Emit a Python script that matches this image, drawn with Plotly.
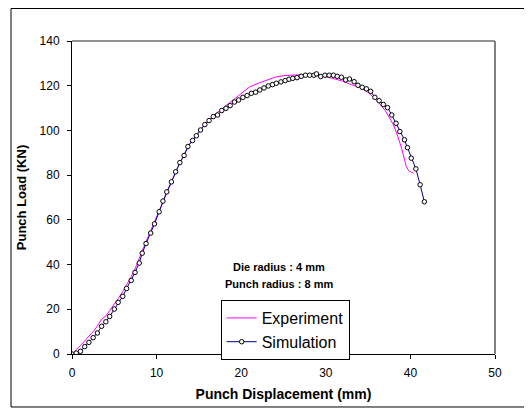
import plotly.graph_objects as go

# Experiment (magenta line)
exp_x = [0, 0.5, 1, 1.5, 2, 2.5, 3, 3.5, 4, 4.5, 5, 5.5, 6, 6.5, 7, 7.5, 8, 8.5, 9, 9.5,
         10, 10.5, 11, 11.5, 12, 12.5, 13, 13.5, 14, 15, 16, 17, 18, 19, 19.8, 20.4, 21,
         22, 23, 24, 25, 26, 27, 28, 29, 30, 31, 32, 33, 34, 35, 36, 37, 38, 38.5, 39,
         39.5, 39.8, 40.1, 40.4]
exp_y = [0, 1.8, 3.8, 5.8, 8, 10, 12.5, 15.6, 17, 19.5, 22, 25, 28, 31, 34.5, 38.5,
         43.5, 48, 52.5, 57, 61.5, 65.5, 70.5, 75, 79.5, 83.5, 87.5, 91, 94.5, 99.5,
         104, 107.5, 110.5, 113.8, 116.3, 118, 119.5, 121.1, 122.6, 123.8, 124.5, 124.8,
         124.9, 124.8, 124.5, 124, 123.1, 122, 120.5, 119.3, 117, 113.6, 109, 102.5,
         97.5, 91.5, 84, 82, 81.3, 80.9]

# Simulation (navy line with open circle markers)
sim_x = [0, 0.5, 1.0, 1.5, 2.0, 2.5, 3.0, 3.5, 4.0, 4.45, 5.0, 5.45, 6.0, 6.45, 7.0, 7.45,
         7.95, 8.3, 8.75, 9.3, 9.75, 10.3, 10.75, 11.2, 11.75, 12.25, 12.75, 13.25, 13.7,
         14.25, 14.7, 15.2, 15.7, 16.2, 16.7, 17.2, 17.7, 18.2, 18.7, 19.2, 19.7, 20.2,
         20.7, 21.2, 21.7, 22.2, 22.7, 23.2, 23.7, 24.15, 24.7, 25.2, 25.65, 26.1, 26.6,
         27.1, 27.6, 28.1, 28.6, 28.9, 29.4, 29.9, 30.4, 30.9, 31.35, 31.85, 32.35, 32.8,
         33.35, 33.8, 34.3, 34.8, 35.3, 35.8, 36.3, 36.8, 37.3, 37.8, 38.3, 38.75, 39.3,
         39.65, 40.1, 40.65, 41.15, 41.65]
sim_y = [0, 0.4, 1.2, 3.3, 5.2, 7.3, 9.4, 12.4, 14.4, 16.8, 20.1, 23.1, 25.8, 29.3, 32.9,
         36.5, 40.7, 45.1, 49.4, 54.1, 58.2, 63.6, 68.4, 72.5, 77.0, 81.5, 85.6, 88.8,
         92.8, 95.5, 97.6, 100.2, 102.6, 104.4, 106.2, 106.9, 108.9, 109.9, 111.1, 112.7,
         113.6, 114.8, 115.6, 116.6, 117.1, 118.1, 119.0, 119.9, 120.5, 121.1, 121.7,
         122.3, 122.9, 123.3, 123.6, 124.2, 124.7, 124.7, 124.7, 125.3, 124.1, 124.7,
         124.7, 124.7, 124.2, 123.8, 122.6, 123.0, 121.8, 120.2, 119.3, 118.6, 117.5,
         114.8, 113.3, 111.6, 110.2, 106.9, 103.2, 99.5, 95.8, 92.3, 87.6, 82.8, 75.7, 68.1]

x_ticks = [0, 10, 20, 30, 40, 50]
y_ticks = [0, 20, 40, 60, 80, 100, 120, 140]
notes = ["Die radius : 4 mm", "Punch radius : 8 mm"]

fig = go.Figure()
fig.add_trace(go.Scatter(x=exp_x, y=exp_y, mode="lines", name="Experiment",
                         line=dict(color="#FF00FF", width=1)))
fig.add_trace(go.Scatter(x=sim_x, y=sim_y, mode="lines+markers", name="Simulation",
                         line=dict(color="#000080", width=1),
                         marker=dict(symbol="circle", size=4.5, color="white",
                                     line=dict(color="black", width=1))))

font_family = "Liberation Sans, Arial, sans-serif"

# page body has an 8px margin, so the figure is sized/offset to compensate
fig.update_layout(
    width=524, height=401,
    margin=dict(l=64, r=37, t=33, b=55, autoexpand=False),
    paper_bgcolor="white", plot_bgcolor="white",
    font=dict(family=font_family, color="black", size=12),
    showlegend=True,
    legend=dict(x=0.3515, y=0.1725, xanchor="left", yanchor="top",
                bordercolor="black", borderwidth=1, bgcolor="white",
                font=dict(size=16, family=font_family, color="black"),
                tracegroupgap=0, itemwidth=30),
    xaxis=dict(range=[0, 50], tickvals=x_ticks, ticktext=[str(v) for v in x_ticks],
               automargin=False,
               showgrid=False, zeroline=False, showline=True, linecolor="black",
               linewidth=1, ticks="outside", ticklen=4, tickcolor="black",
               ticklabelstandoff=4,
               tickfont=dict(size=12),
               title=dict(text="<b>Punch Displacement (mm)</b>",
                          font=dict(size=14), standoff=9)),
    yaxis=dict(range=[0, 140], tickvals=y_ticks, ticktext=[str(v) for v in y_ticks],
               automargin=False,
               showgrid=False, zeroline=False, showline=True, linecolor="black",
               linewidth=1, ticks="outside", ticklen=4, tickcolor="black",
               ticklabelstandoff=5,
               tickfont=dict(size=12),
               title=dict(text="<b>Punch Load (KN)</b>",
                          font=dict(size=13), standoff=10)),
    shapes=[
        dict(type="line", xref="paper", yref="paper", x0=0, x1=1, y0=1, y1=1,
             line=dict(color="#222222", width=1)),
        dict(type="line", xref="paper", yref="paper", x0=1, x1=1, y0=0, y1=1,
             line=dict(color="#808080", width=2)),
        dict(type="rect", xref="paper", yref="paper",
             x0=-0.1442, x1=1.0839, y0=-0.1693, y1=1.1038,
             line=dict(color="black", width=1), fillcolor="rgba(0,0,0,0)"),
    ],
    annotations=[
        dict(x=24.5, y=38.7, xref="x", yref="y", text="<b>" + notes[0] + "</b>",
             showarrow=False, font=dict(size=11)),
        dict(x=24.5, y=31.4, xref="x", yref="y", text="<b>" + notes[1] + "</b>",
             showarrow=False, font=dict(size=11)),
    ],
)

fig.write_html("out.html")
